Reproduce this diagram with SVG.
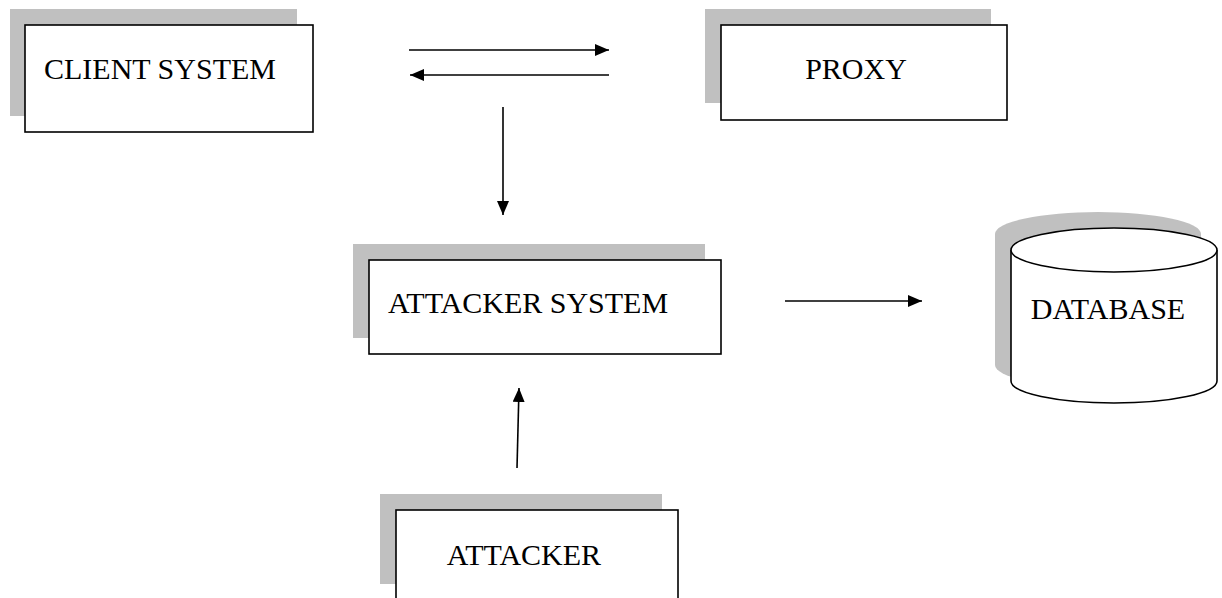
<svg xmlns="http://www.w3.org/2000/svg" width="1222" height="598" viewBox="0 0 1222 598">
  <style>
    .shadow { fill: #c0c0c0; stroke: none; }
    .box { fill: #ffffff; stroke: #000000; stroke-width: 1.6; }
    .label { font-family: "Liberation Serif", "Times New Roman", serif; font-size: 30px; fill: #000000; }
    .link { stroke: #000000; stroke-width: 1.6; fill: none; marker-end: url(#arrow); }
  </style>
  <defs>
    <marker id="arrow" viewBox="0 0 14 12" refX="14" refY="6" markerWidth="14" markerHeight="12" markerUnits="userSpaceOnUse" orient="auto">
      <path d="M0,0 L14,6 L0,12 Z" fill="#000000"/>
    </marker>
  </defs>

  <rect width="1222" height="598" fill="#ffffff"/>

  <g id="client-system">
    <rect class="shadow" x="10" y="9" width="287" height="107"/>
    <rect class="box" x="25" y="25" width="288" height="107"/>
    <text class="label" x="44" y="79">CLIENT SYSTEM</text>
  </g>

  <g id="proxy">
    <rect class="shadow" x="705" y="9" width="286" height="94"/>
    <rect class="box" x="721" y="25" width="286" height="95"/>
    <text class="label" x="856" y="79" text-anchor="middle">PROXY</text>
  </g>

  <g id="attacker-system">
    <rect class="shadow" x="353" y="244" width="352" height="94"/>
    <rect class="box" x="369" y="260" width="352" height="94"/>
    <text class="label" x="388" y="313">ATTACKER SYSTEM</text>
  </g>

  <g id="database">
    <path class="shadow" d="M995,234 A103,22 0 0 1 1201,234 L1201,365 A103,22 0 0 1 995,365 Z"/>
    <path class="box" d="M1011,250 L1011,381 A103,22 0 0 0 1217,381 L1217,250"/>
    <ellipse class="box" cx="1114" cy="250" rx="103" ry="22"/>
    <text class="label" x="1108" y="319" text-anchor="middle">DATABASE</text>
  </g>

  <g id="attacker">
    <rect class="shadow" x="380" y="494" width="282" height="90"/>
    <rect class="box" x="396" y="510" width="282" height="100"/>
    <text class="label" x="524" y="565" text-anchor="middle">ATTACKER</text>
  </g>

  <g id="connectors">
    <line class="link" x1="409" y1="50" x2="609" y2="50"/>
    <line class="link" x1="609" y1="75" x2="410" y2="75"/>
    <line class="link" x1="503" y1="107" x2="503" y2="215"/>
    <line class="link" x1="785" y1="301" x2="922" y2="301"/>
    <line class="link" x1="517" y1="468" x2="519" y2="388"/>
  </g>
</svg>
